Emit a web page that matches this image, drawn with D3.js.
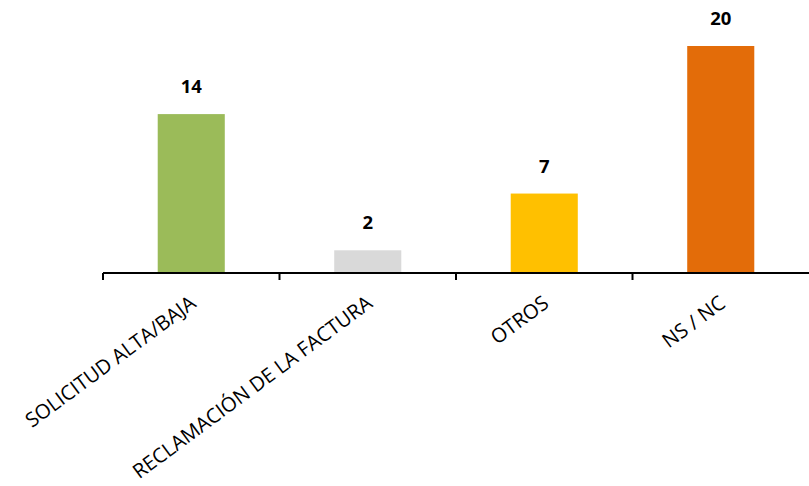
<!DOCTYPE html>
<html><head><meta charset="utf-8">
<script src="https://cdn.jsdelivr.net/npm/d3@7"></script>
<style>html,body{margin:0;padding:0;background:#fff;}svg{display:block;}</style>
</head><body>
<svg id="c" width="809" height="486"></svg>
<script>
const categories = ["SOLICITUD ALTA/BAJA", "RECLAMACIÓN DE LA FACTURA", "OTROS", "NS / NC"];
const values = [14, 2, 7, 20];
const colors = ["#9BBB59", "#D9D9D9", "#FFC000", "#E36C09"];

const svg = d3.select("#c");
const x0 = 103, x1 = 809, yBase = 273, yTop = 46;
const x = d3.scaleBand().domain(categories).range([x0, x1]).padding(0);
const y = d3.scaleLinear().domain([0, 20]).range([yBase, yTop]);
const bw = x.bandwidth() * 0.38;

svg.selectAll("rect.bar").data(values).enter().append("rect")
  .attr("x", (d, i) => x(categories[i]) + x.bandwidth() / 2 - bw / 2)
  .attr("y", d => y(d))
  .attr("width", bw)
  .attr("height", d => yBase - y(d))
  .attr("fill", (d, i) => colors[i]);

svg.selectAll("text.val").data(values).enter().append("text")
  .attr("x", (d, i) => x(categories[i]) + x.bandwidth() / 2)
  .attr("y", d => y(d) - 21)
  .attr("text-anchor", "middle")
  .attr("font-family", "'Open Sans', 'Liberation Sans', sans-serif")
  .attr("font-weight", "bold")
  .attr("font-size", 18.5)
  .attr("fill", "#000")
  .text(d => d);

// axis line
svg.append("line").attr("x1", x0).attr("x2", x1).attr("y1", yBase).attr("y2", yBase)
  .attr("stroke", "#000").attr("stroke-width", 2);
const tickX = categories.map(c => x(c));
svg.selectAll("line.tick").data(tickX).enter().append("line")
  .attr("x1", d => d).attr("x2", d => d)
  .attr("y1", yBase).attr("y2", yBase + 7)
  .attr("stroke", "#000").attr("stroke-width", 2);

svg.selectAll("text.cat").data(categories).enter().append("text")
  .attr("transform", c => `translate(${x(c) + x.bandwidth() / 2 + 6},${yBase + 33}) rotate(-36.5)`)
  .attr("text-anchor", "end")
  .attr("font-family", "'Open Sans', 'Liberation Sans', sans-serif")
  .attr("font-size", 20.2)
  .attr("fill", "#000")
  .text(c => c);
</script>
</body></html>
